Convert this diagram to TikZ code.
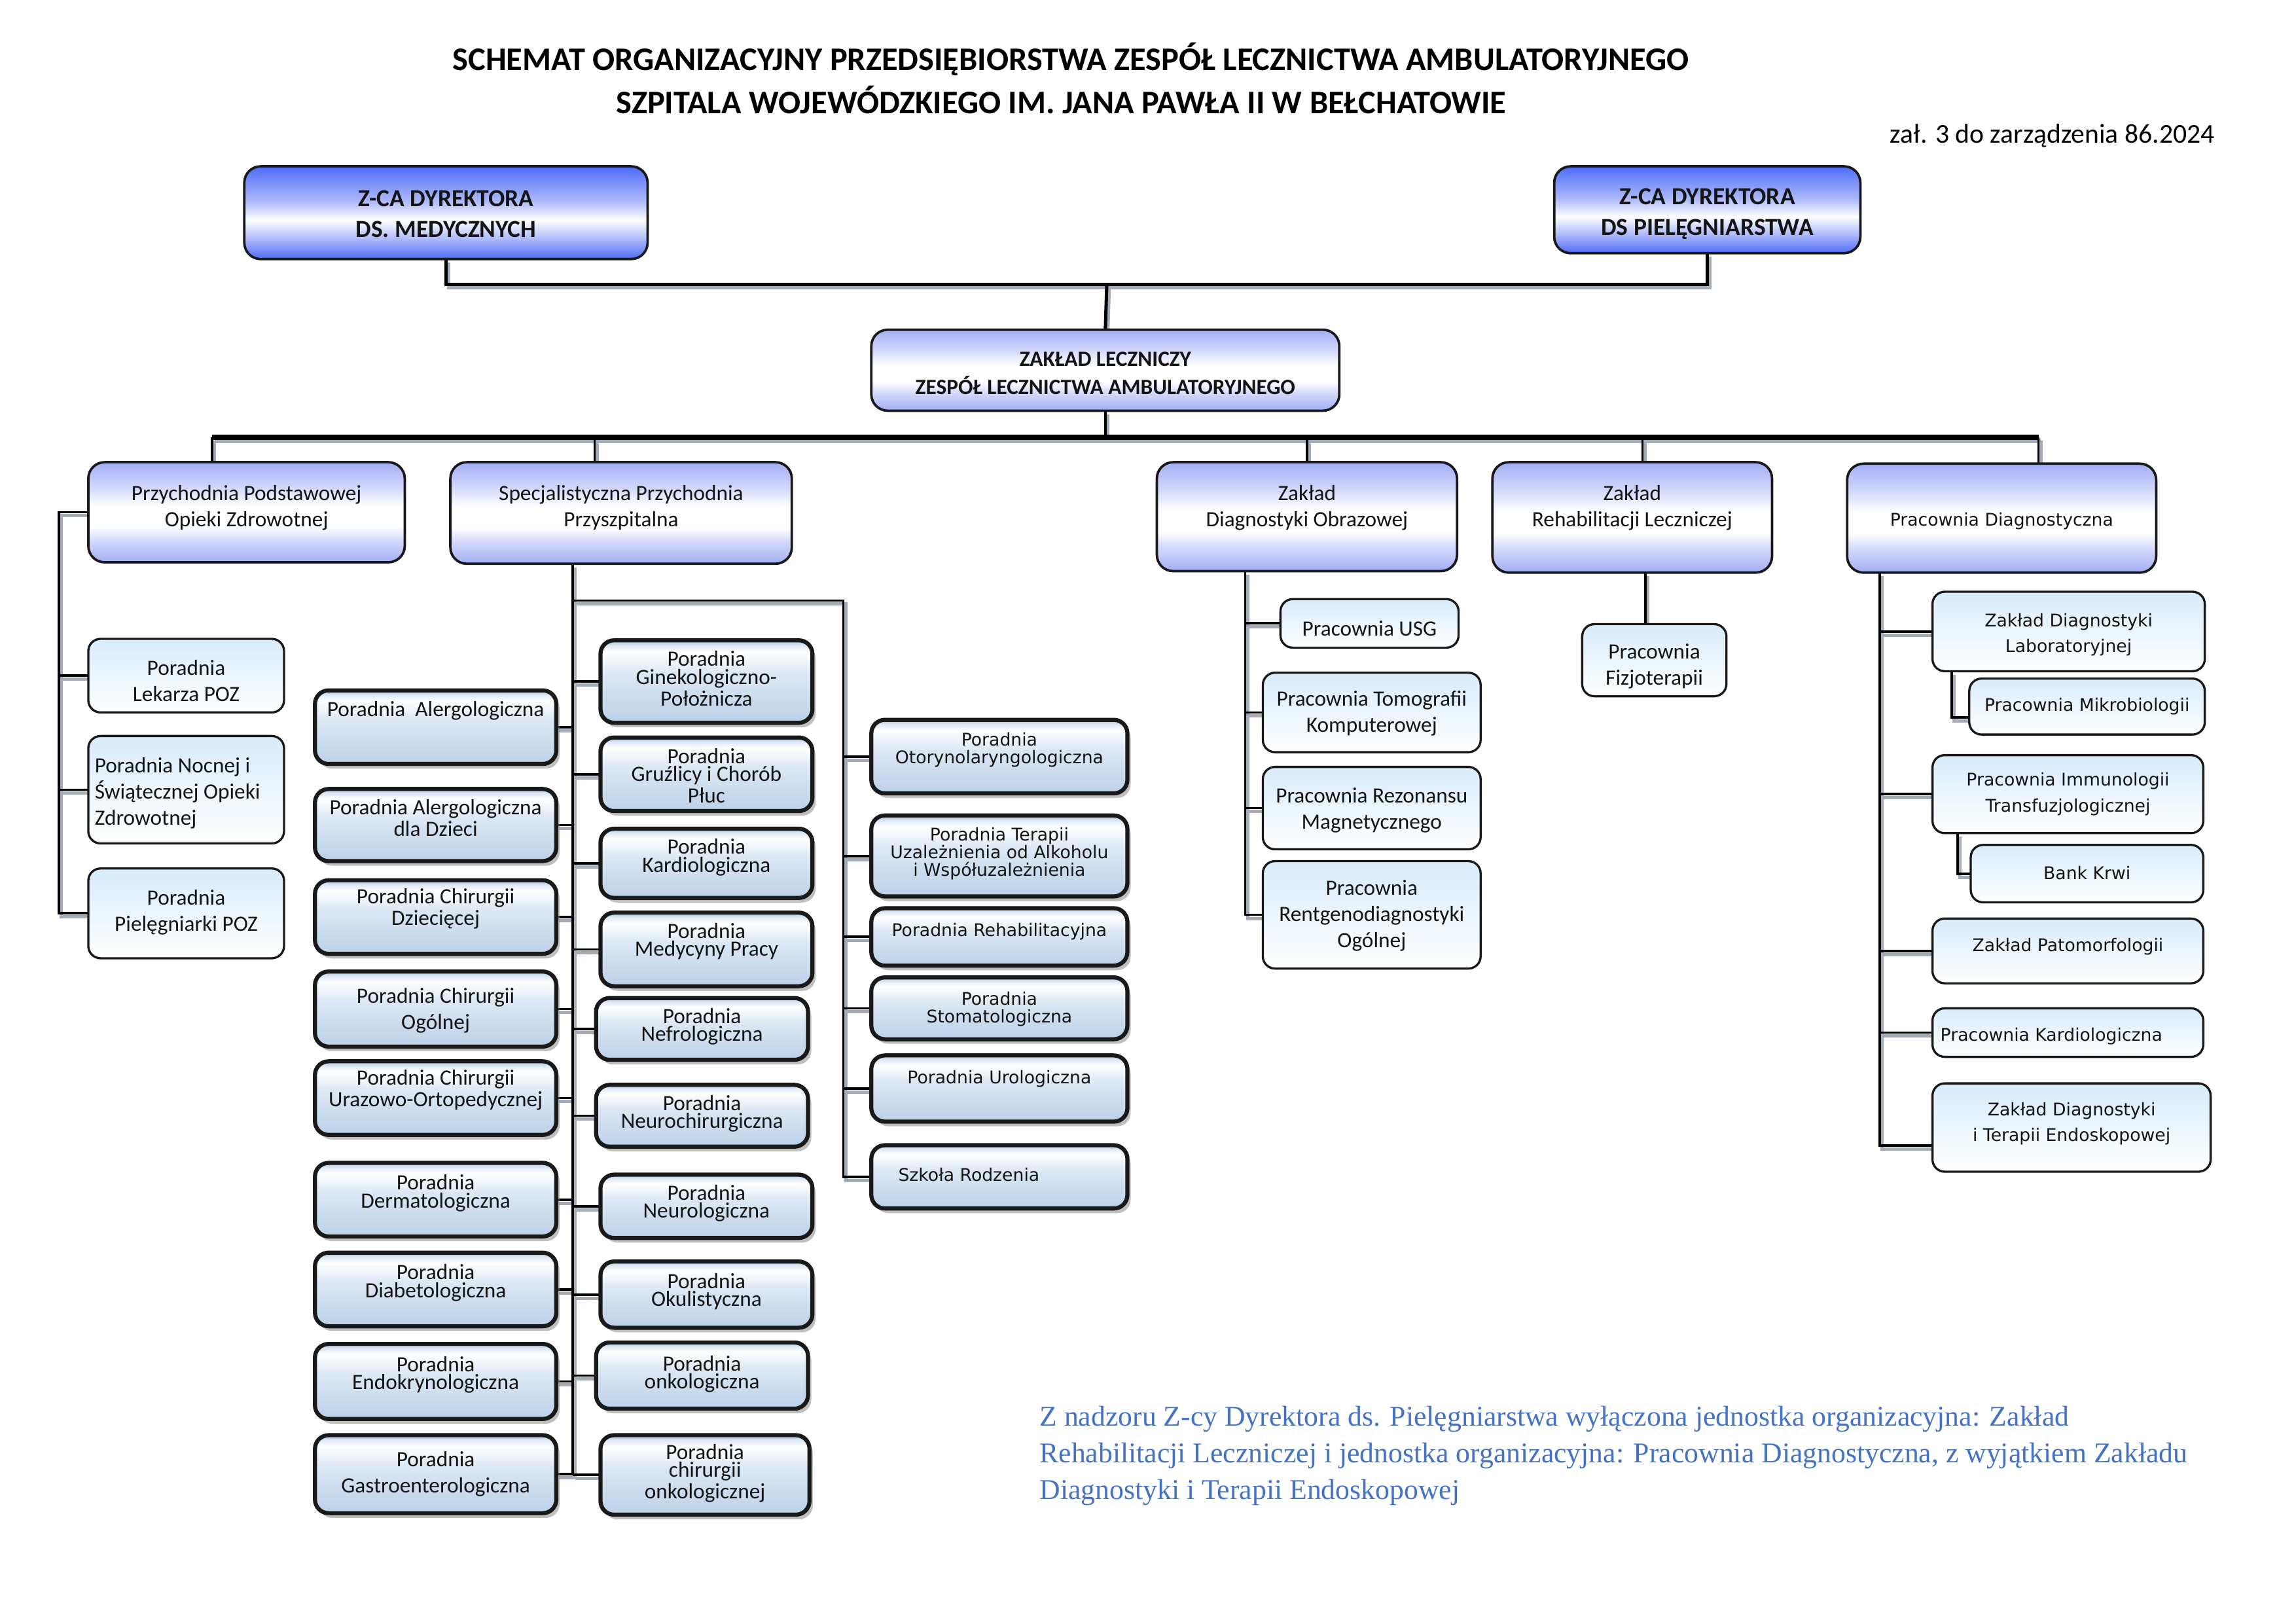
\documentclass[tikz,border=0pt]{standalone}
\usepackage{fontspec}
\setmainfont{Carlito}
\newfontfamily\verd{DejaVu Sans}
\newfontfamily\notefont{Liberation Serif}
\usetikzlibrary{shadows}
\pgfdeclarelayer{paper}
\pgfdeclarelayer{bg}
\pgfsetlayers{paper,bg,main}
\definecolor{dirb}{HTML}{4D6CF6}
\definecolor{dirl}{HTML}{AEBBFB}
\definecolor{lvb}{HTML}{A2AEF5}
\definecolor{lvl}{HTML}{D4DAFB}
\definecolor{specb}{HTML}{BCD1E8}
\definecolor{specl}{HTML}{DCE8F4}
\definecolor{specd}{HTML}{A8C0DA}
\definecolor{leaft}{HTML}{D8ECFC}
\definecolor{noteblue}{HTML}{4472C4}
\definecolor{shgray}{HTML}{A4ACB8}
\pgfdeclareverticalshading{dirsh}{100bp}{color(0bp)=(dirb); color(25bp)=(dirb); color(36bp)=(dirl); color(46bp)=(white); color(56bp)=(dirl); color(75bp)=(dirb); color(100bp)=(dirb)}
\pgfdeclareverticalshading{lvsh}{100bp}{color(0bp)=(lvb); color(25bp)=(lvb); color(36bp)=(lvl); color(43bp)=(white); color(53bp)=(white); color(62bp)=(lvl); color(75bp)=(lvb); color(100bp)=(lvb)}
\pgfdeclareverticalshading{specsh}{100bp}{color(0bp)=(specb); color(25bp)=(specb); color(55bp)=(specl); color(68bp)=(white); color(72bp)=(specl); color(75bp)=(specd); color(100bp)=(specd)}
\newcommand\bx[9]{%
  \node[#1, anchor=north west, minimum width={(#5-#3)*0.54pt}, minimum height={(#6-#4)*0.54pt}] (#2) at (#3,#4) {};
  \node[lbl, #7] (#2-l) at ({(#3+#5)/2},#8) {#9};
}
\tikzset{
  boxbase/.style={draw=black!90, inner sep=0pt, outer sep=0pt},
  dir/.style={boxbase, line width=0.9pt, rounded corners=6pt, shading=dirsh},
  lvtwo/.style={boxbase, line width=0.9pt, rounded corners=6pt, shading=lvsh},
  leaf/.style={boxbase, line width=0.8pt, rounded corners=4.5pt, top color=leaft, bottom color=white},
  spec/.style={boxbase, line width=1.5pt, rounded corners=5pt, shading=specsh,
    drop shadow={shadow xshift=1.2pt, shadow yshift=-1.7pt, fill=black!45, opacity=0.55}},
  lbl/.style={inner sep=0pt, align=center, text=black!92},
  cn/.style={font=\fontsize{8}{9.6}\selectfont},
  ct/.style={font=\fontsize{8}{6.6}\selectfont},
  vn/.style={font=\verd\fontsize{6.4}{9.4}\selectfont},
  vt/.style={font=\verd\fontsize{6.4}{6.5}\selectfont},
  dirf/.style={font=\bfseries\fontsize{9}{11.3}\selectfont},
  zlf/.style={font=\bfseries\fontsize{8}{10.2}\selectfont},
  mainln/.style={draw=black, line width=0.9pt},
  shln/.style={draw=shgray, line width=1.2pt},
  topw/.style={line width=1.2pt},
  busw/.style={line width=1.8pt},
}
\newcommand\conns[1]{%
  \draw[#1,topw] (dm.south) |- (j1) -| (dp.south);
  \draw[#1,topw] (j1) -- (zl.north);
  \draw[#1] (zl.south) -- (zl.south |- bl);
  \draw[#1,busw] (bl) -- (br);
  \draw[#1] (bl) -- (ppoz.north -| bl);
  \draw[#1] (b2) -- (spp.north -| b2);
  \draw[#1] (zdo.north |- bl) -- (zdo.north);
  \draw[#1] (b4) -- (zrl.north -| b4);
  \draw[#1] (br) -- (pd.north -| br);
  % Przychodnia Podstawowej
  \draw[#1] (ppoz.west) -| (pv |- piel.west) -- (piel.west);
  \draw[#1] (pv |- lek.west) -- (lek.west);
  \draw[#1] (pv |- noc.west) -- (noc.west);
  % Specjalistyczna
  \draw[#1] (spp.south -| sv) -- (sv |- gastro.east);
  \foreach \n in {alg,algd,chd,chog,chuo,derm,diab,endk,gastro} \draw[#1] (\n.east) -- (\n.east -| sv);
  \foreach \n in {gin,gru,kard,med,nef,nch,neu,oku,onk,chonk} \draw[#1] (sv |- \n.west) -- (\n.west);
  \draw[#1] (sv |- sh) -- (sh) -- (sh |- szk.west) -- (szk.west);
  \foreach \n in {oto,ter,reh,stom,uro} \draw[#1] (sh |- \n.west) -- (\n.west);
  % Diagnostyka obrazowa
  \draw[#1] (zdo.south -| zv) -- (zv |- rtg.west) -- (rtg.west);
  \foreach \n in {usg,tk,rm} \draw[#1] (zv |- \n.west) -- (\n.west);
  % Rehabilitacja
  \draw[#1] (zrl.south -| fv) -- (fiz.north -| fv);
  % Pracownia Diagnostyczna
  \draw[#1] (pd.south -| dv) -- (dv |- endc) -- (endc);
  \foreach \n in {zdl,imm,pato,pkard} \draw[#1] (dv |- \n.west) -- (\n.west);
  \draw[#1] (zdl.south -| mv) |- (mikc);
  \draw[#1] (imm.south -| kv) |- (bank.west);
}
\begin{document}
\begin{tikzpicture}[x=0.54pt, y=-0.54pt]
\useasboundingbox (0,0) rectangle (1560,1103);
\begin{pgfonlayer}{paper}
\fill[white] (0,0) rectangle (1560,1103);
\end{pgfonlayer}

% Title
\node[font=\bfseries\fontsize{12.1}{14}\selectfont, inner sep=0pt] (t1) at (727.5,40) {SCHEMAT ORGANIZACYJNY PRZEDSIĘBIORSTWA ZESPÓŁ LECZNICTWA AMBULATORYJNEGO};
\node[font=\bfseries\fontsize{12.1}{14}\selectfont, inner sep=0pt] (t2) at (721,68) {SZPITALA WOJEWÓDZKIEGO IM. JANA PAWŁA II W BEŁCHATOWIE};
\node[font=\fontsize{10}{12}\selectfont, anchor=east, inner sep=0pt] (zal) at (1505,92) {zał. 3 do zarządzenia 86.2024};

% Directors and level 2
\bx{dir}{dm}{166}{113}{440}{176}{dirf}{145.5}{Z-CA DYREKTORA\\DS. MEDYCZNYCH}
\bx{dir}{dp}{1056}{113}{1264}{172}{dirf}{145.5}{Z-CA DYREKTORA\\DS PIELĘGNIARSTWA}
\bx{lvtwo}{zl}{592}{224}{910}{279}{zlf}{253.5}{ZAKŁAD LECZNICZY\\ZESPÓŁ LECZNICTWA AMBULATORYJNEGO}
\bx{lvtwo}{ppoz}{60}{314}{275}{382}{cn}{345}{Przychodnia Podstawowej\\Opieki Zdrowotnej}
\bx{lvtwo}{spp}{306}{314}{538}{383}{cn}{345}{Specjalistyczna Przychodnia\\Przyszpitalna}
\bx{lvtwo}{zdo}{786}{314}{990}{388}{cn}{345}{Zakład\\Diagnostyki Obrazowej}
\bx{lvtwo}{zrl}{1014}{314}{1204}{389}{cn}{345}{Zakład\\Rehabilitacji Leczniczej}
\bx{lvtwo}{pd}{1255}{315}{1465}{389}{vn}{354}{Pracownia Diagnostyczna}

% POZ leaves
\bx{leaf}{lek}{60}{434}{193}{484}{cn}{462.5}{Poradnia\\Lekarza POZ}
\bx{leaf}{noc}{60}{500}{193}{573}{cn}{539}{}
\node[lbl, cn, align=left, anchor=west] (noc-t) at (64,539) {Poradnia Nocnej i\\Świątecznej Opieki\\Zdrowotnej};
\bx{leaf}{piel}{60}{590}{193}{651}{cn}{620}{Poradnia\\Pielęgniarki POZ}

% Diagnostyka obrazowa / rehabilitacja leaves
\bx{leaf}{usg}{870}{407}{991}{440}{cn}{427}{Pracownia USG}
\bx{leaf}{tk}{858}{457}{1006}{511}{cn}{484.5}{Pracownia Tomografii\\Komputerowej}
\bx{leaf}{rm}{858}{521}{1006}{577}{cn}{550.5}{Pracownia Rezonansu\\Magnetycznego}
\bx{leaf}{rtg}{858}{585}{1006}{658}{cn}{622}{Pracownia\\Rentgenodiagnostyki\\Ogólnej}
\bx{leaf}{fiz}{1075}{424}{1173}{473}{cn}{452.5}{Pracownia\\Fizjoterapii}

% Pracownia Diagnostyczna leaves
\bx{leaf}{zdl}{1313}{402}{1498}{456}{vn}{431}{Zakład Diagnostyki\\Laboratoryjnej}
\bx{leaf}{mik}{1338}{461}{1498}{499}{vn}{480}{Pracownia Mikrobiologii}
\bx{leaf}{imm}{1313}{513}{1497}{566}{vn}{539.5}{Pracownia Immunologii\\Transfuzjologicznej}
\bx{leaf}{bank}{1339}{574}{1497}{613}{vn}{593}{Bank Krwi}
\bx{leaf}{pato}{1313}{624}{1497}{668}{vn}{643}{Zakład Patomorfologii}
\bx{leaf}{pkard}{1313}{685}{1497}{718}{vn}{704}{}
\node[lbl, vn, anchor=west] (pkard-t) at (1318,704) {Pracownia Kardiologiczna};
\bx{leaf}{endo}{1313}{736}{1502}{796}{vn}{763.5}{Zakład Diagnostyki\\ i Terapii Endoskopowej}

% Specialist column 1
\bx{spec}{alg}{214}{469}{378}{519}{cn}{483}{Poradnia\ \ Alergologiczna}
\bx{spec}{algd}{214}{536}{378}{585}{ct}{555.5}{Poradnia Alergologiczna\\dla Dzieci}
\bx{spec}{chd}{214}{598}{378}{648}{ct}{617.5}{Poradnia Chirurgii\\Dziecięcej}
\bx{spec}{chog}{214}{660}{378}{711}{cn}{686.5}{Poradnia Chirurgii\\Ogólnej}
\bx{spec}{chuo}{214}{721}{378}{771}{ct}{740.5}{Poradnia Chirurgii\\Urazowo-Ortopedycznej}
\bx{spec}{derm}{214}{790}{378}{840}{ct}{810.5}{Poradnia\\Dermatologiczna}
\bx{spec}{diab}{214}{851}{378}{901}{ct}{871.5}{Poradnia\\Diabetologiczna}
\bx{spec}{endk}{214}{913}{378}{964}{ct}{934}{Poradnia\\Endokrynologiczna}
\bx{spec}{gastro}{214}{975}{378}{1028}{cn}{1001.5}{Poradnia\\Gastroenterologiczna}

% Specialist column 2
\bx{spec}{gin}{408}{435}{552}{491}{ct}{461}{Poradnia\\Ginekologiczno-\\Położnicza}
\bx{spec}{gru}{408}{501}{552}{551}{ct}{527}{Poradnia\\Gruźlicy i Chorób\\Płuc}
\bx{spec}{kard}{408}{563}{552}{610}{ct}{582.5}{Poradnia\\Kardiologiczna}
\bx{spec}{med}{408}{620}{552}{670}{ct}{639.5}{Poradnia\\Medycyny Pracy}
\bx{spec}{nef}{405}{678}{549}{720}{ct}{697.5}{Poradnia\\Nefrologiczna}
\bx{spec}{nch}{405}{737}{549}{779}{ct}{756.5}{Poradnia\\Neurochirurgiczna}
\bx{spec}{neu}{408}{798}{552}{841}{ct}{817.5}{Poradnia\\Neurologiczna}
\bx{spec}{oku}{408}{857}{552}{902}{ct}{877.5}{Poradnia\\Okulistyczna}
\bx{spec}{onk}{405}{912}{549}{957}{ct}{933.5}{Poradnia\\onkologiczna}
\bx{spec}{chonk}{408}{975}{550}{1029}{ct}{1001}{Poradnia\\chirurgii\\onkologicznej}

% Specialist column 3
\bx{spec}{oto}{592}{489}{766}{539}{vt}{509.5}{Poradnia\\Otorynolaryngologiczna}
\bx{spec}{ter}{592}{554}{766}{609}{vt}{580}{Poradnia Terapii\\Uzależnienia od Alkoholu\\i Współuzależnienia}
\bx{spec}{reh}{592}{617}{766}{656}{vt}{633}{Poradnia Rehabilitacyjna}
\bx{spec}{stom}{592}{664}{766}{706}{vt}{685.5}{Poradnia\\Stomatologiczna}
\bx{spec}{uro}{592}{717}{766}{762}{vt}{733}{Poradnia Urologiczna}
\bx{spec}{szk}{592}{778}{766}{821}{vt}{798}{}
\node[lbl, vt, anchor=west] (szk-t) at (610,798) {Szkoła Rodzenia};

% Note
\node[font=\notefont\fontsize{10.5}{13.5}\selectfont, text=noteblue, align=left, anchor=west, inner sep=0pt] (note) at (706,989)
 {Z nadzoru Z-cy Dyrektora ds. Pielęgniarstwa wyłączona jednostka organizacyjna: Zakład\\
  Rehabilitacji Leczniczej i jednostka organizacyjna: Pracownia Diagnostyczna, z wyjątkiem Zakładu\\
  Diagnostyki i Terapii Endoskopowej};

% junction coordinates
\coordinate (j1) at (752,193);
\coordinate (bl) at (144,297);
\coordinate (br) at (1385,297);
\coordinate (b2) at (404,297);
\coordinate (b4) at (1116,297);
\coordinate (pv) at (40,0);
\coordinate (sv) at (389,0);
\coordinate (sh) at (573,408);
\coordinate (zv) at (846,0);
\coordinate (fv) at (1118,0);
\coordinate (dv) at (1277,0);
\coordinate (mv) at (1326,0);
\coordinate (kv) at (1330,0);
\coordinate (endc) at ([yshift=-6.5pt]endo.west);
\coordinate (mikc) at ([yshift=-4pt]mik.west);

\begin{pgfonlayer}{bg}
  \begin{scope}[transform canvas={shift={(0.9pt,-1.3pt)}}]
    \conns{shln}
  \end{scope}
  \conns{mainln}
\end{pgfonlayer}
\end{tikzpicture}
\end{document}
